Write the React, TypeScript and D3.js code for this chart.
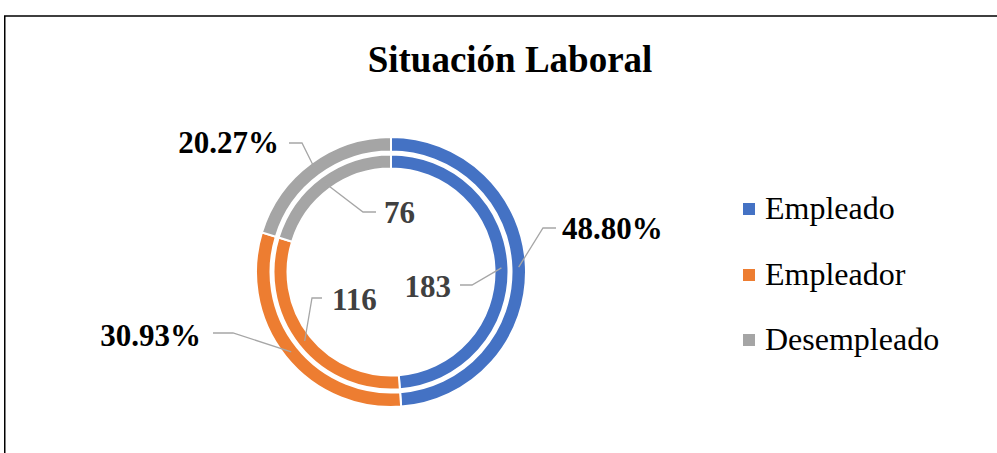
import React from "react";
import * as d3 from "d3";

const categories = ["Empleado", "Empleador", "Desempleado"];
const counts = [183, 116, 76];
const percentLabels = ["48.80%", "30.93%", "20.27%"];
const colors = ["#4472C4", "#ED7D31", "#A5A5A5"];
const title = "Situación Laboral";

const W = 997;
const H = 453;
const CX = 391;
const CY = 272;
const OUTER = [120.5, 135];
const INNER = [103.5, 117.5];

// layout for labels: elbow point, line end, text x, baseline
const outerLayout = [
  { elbow: [543, 228], end: [556, 228], tx: 562, ty: 239, anchor: "start" },
  { elbow: [233, 333], end: [213, 333], tx: 201, ty: 346, anchor: "end" },
  { elbow: [302, 143], end: [289, 143], tx: 279, ty: 153, anchor: "end" },
];
const innerLayout = [
  { elbow: [472, 285], end: [460, 285], tx: 451, ty: 297, anchor: "end" },
  { elbow: [312, 298], end: [322, 298], tx: 332, ty: 310, anchor: "start" },
  { elbow: [363, 212], end: [376, 212], tx: 384, ty: 223, anchor: "start" },
];

export default function App() {
  const pie = d3.pie<number>().sort(null).startAngle(0).endAngle(2 * Math.PI);
  const arcsData = pie(counts);
  const outerArc = d3.arc<d3.PieArcDatum<number>>().innerRadius(OUTER[0]).outerRadius(OUTER[1]);
  const innerArc = d3.arc<d3.PieArcDatum<number>>().innerRadius(INNER[0]).outerRadius(INNER[1]);

  const anchorAt = (d: d3.PieArcDatum<number>, r: number) => {
    const a = (d.startAngle + d.endAngle) / 2;
    return [CX + Math.sin(a) * r, CY - Math.cos(a) * r];
  };

  const font = "'Liberation Serif', 'Times New Roman', serif";
  const legendY = [219, 285, 350];

  return (
    <svg width={W} height={H} style={{ position: "absolute", left: 0, top: 0, background: "#fff" }} fontFamily={font}>
      <rect x={4.75} y={16} width={W + 10} height={H + 10} fill="#fff" stroke="#000" strokeWidth={1.5} />
      <text x={510} y={72} textAnchor="middle" fontSize={37} fontWeight="bold" fill="#000">{title}</text>
      <g transform={`translate(${CX},${CY})`}>
        {arcsData.map((d, i) => (
          <path key={"o" + i} d={outerArc(d) || ""} fill={colors[i]} stroke="#fff" strokeWidth={2} />
        ))}
        {arcsData.map((d, i) => (
          <path key={"i" + i} d={innerArc(d) || ""} fill={colors[i]} stroke="#fff" strokeWidth={2} />
        ))}
      </g>
      {arcsData.map((d, i) => {
        const L = outerLayout[i];
        const a = anchorAt(d, (OUTER[0] + OUTER[1]) / 2);
        const pts = [a, L.elbow, L.end];
        return (
          <g key={"ol" + i}>
            <polyline points={pts.map((p) => p.join(",")).join(" ")} fill="none" stroke="#A6A6A6" strokeWidth={1.3} />
            <text x={L.tx} y={L.ty} textAnchor={L.anchor as any} fontSize={31} fontWeight="bold" fill="#000">{percentLabels[i]}</text>
          </g>
        );
      })}
      {arcsData.map((d, i) => {
        const L = innerLayout[i];
        const a = anchorAt(d, (INNER[0] + INNER[1]) / 2);
        const pts = [a, L.elbow, L.end];
        return (
          <g key={"il" + i}>
            <polyline points={pts.map((p) => p.join(",")).join(" ")} fill="none" stroke="#A6A6A6" strokeWidth={1.3} />
            <text x={L.tx} y={L.ty} textAnchor={L.anchor as any} fontSize={31} fontWeight="bold" fill="#404040">{counts[i]}</text>
          </g>
        );
      })}
      {categories.map((c, i) => (
        <g key={"lg" + i}>
          <rect x={743} y={legendY[i] - 16} width={12} height={12} fill={colors[i]} />
          <text x={765} y={legendY[i]} fontSize={32} fill="#000">{c}</text>
        </g>
      ))}
    </svg>
  );
}
